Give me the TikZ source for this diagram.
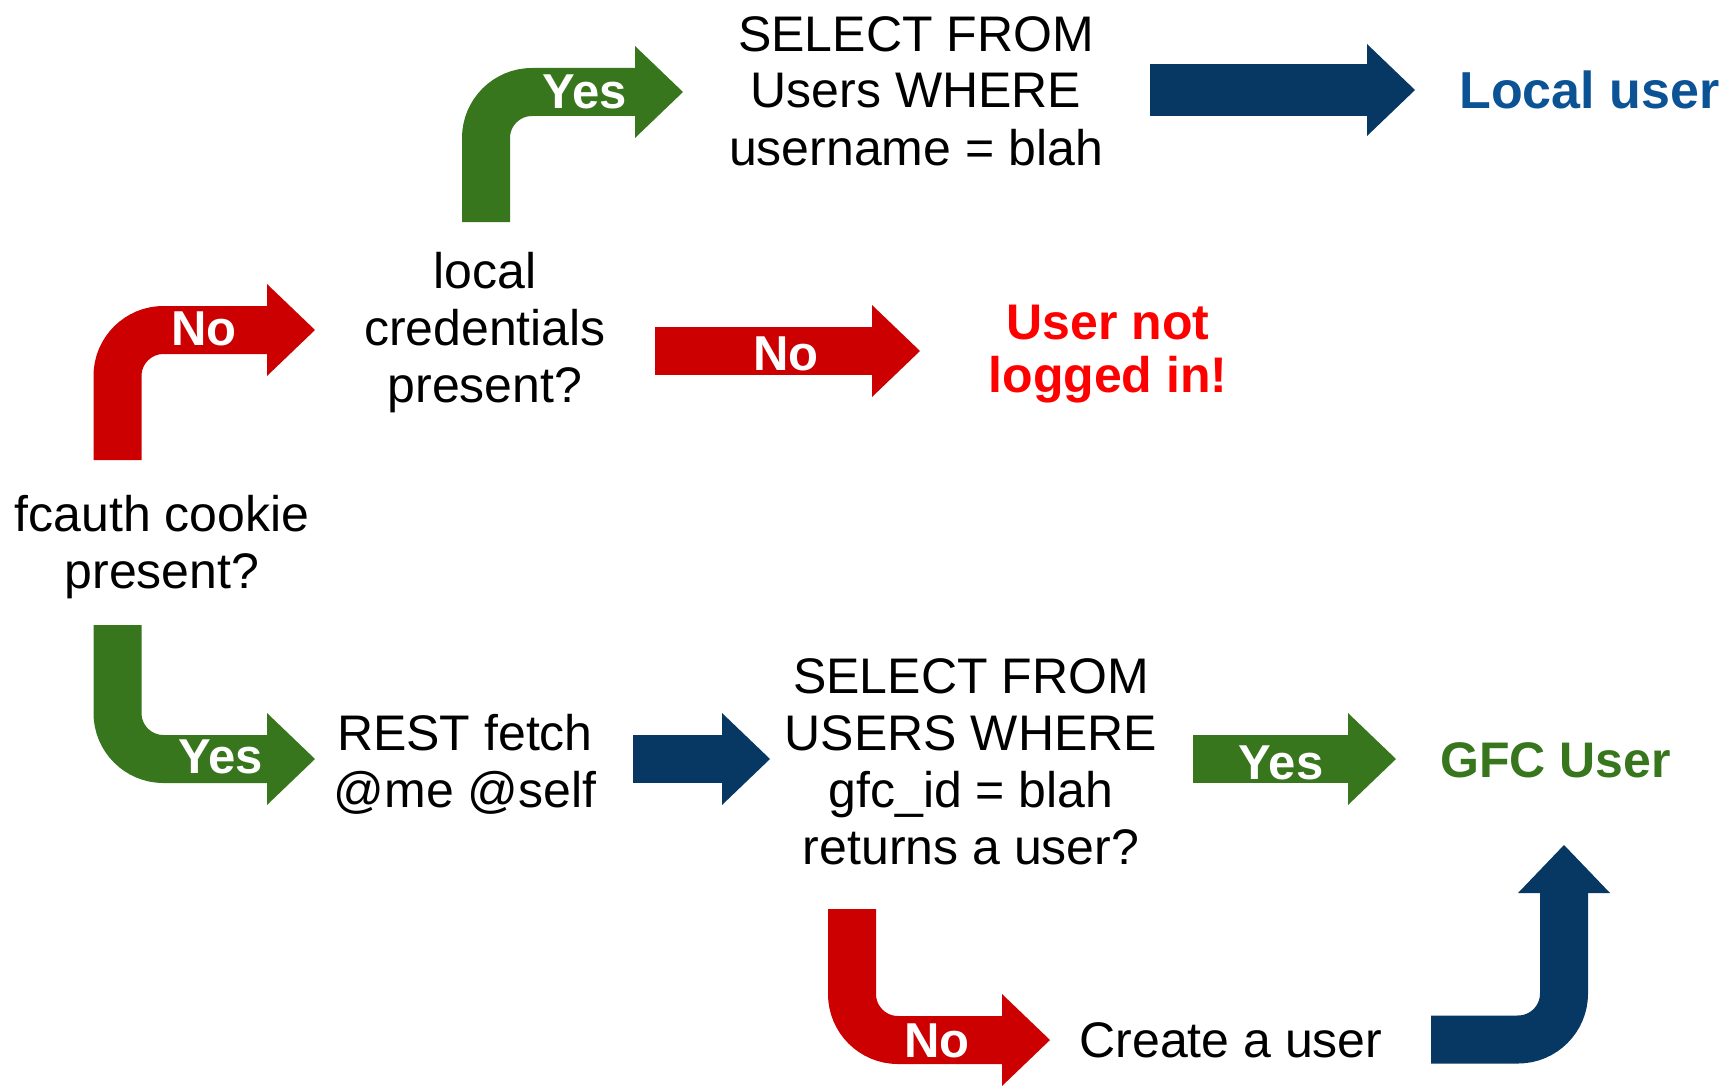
\documentclass[tikz,border=0pt]{standalone}
\usepackage{fontspec}
\setmainfont{Liberation Sans}
\usetikzlibrary{arrows.meta}
\definecolor{flowred}{HTML}{CC0000}
\definecolor{flowgreen}{HTML}{38761D}
\definecolor{flowblue}{HTML}{073763}
\definecolor{localblue}{HTML}{0B5394}
\definecolor{alertred}{HTML}{FF0000}
\begin{document}
\begin{tikzpicture}[x=0.5pt,y=-0.5pt,
  flow/.style={line width=24pt, rounded corners=23pt,
    -{Triangle[length=24pt,width=46pt,line width=0pt]}},
  txt/.style={font=\fontsize{25}{28.5}\selectfont, align=center, anchor=base, inner sep=0pt},
  result/.style={font=\bfseries\fontsize{25}{26.5}\selectfont, inner sep=0pt, anchor=base west},
  tag/.style={text=white, font=\bfseries\fontsize{24.5}{24.5}\selectfont, inner sep=0pt, anchor=base}]
\useasboundingbox (0,0) rectangle (1724,1086);

% decision and action texts (placed by the baseline of their last line)
\node[txt] (cookie) at (162,588) {fcauth cookie\\present?};
\node[txt] (local) at (485,402) {local\\credentials\\present?};
\node[txt] (selectlocal) at (916,165) {SELECT FROM\\Users WHERE\\username = blah};
\node[txt] (rest) at (465,807) {REST fetch\\@me @self};
\node[txt] (selectgfc) at (971,864) {SELECT FROM\\USERS WHERE\\gfc\_id = blah\\returns a user?};
\node[txt] (create) at (1231,1057) {Create a user};

% outcomes
\node[result, text=localblue, font=\bfseries\fontsize{26}{28}\selectfont] (localuser) at (1459,109) {Local user};
\node[result, text=alertred, anchor=base, align=center] (notlogged) at (1108,392) {User not\\logged in!};
\node[result, text=flowgreen] (gfcuser) at (1440,777) {GFC User};

% arrow end points
\coordinate (a1s) at (117.5,460);  \coordinate (a1e) at (315,330);
\coordinate (a2s) at (486,222);    \coordinate (a2e) at (683,92);
\coordinate (a3s) at (1150,90);    \coordinate (a3e) at (1415,90);
\coordinate (a4s) at (655,351);    \coordinate (a4e) at (920,351);
\coordinate (a5s) at (117.5,625);  \coordinate (a5e) at (315,759);
\coordinate (a6s) at (633,759);    \coordinate (a6e) at (770,759);
\coordinate (a7s) at (1193,759);   \coordinate (a7e) at (1396,759);
\coordinate (a8s) at (852,909);    \coordinate (a8e) at (1050,1040);
\coordinate (a9s) at (1431,1039.5);\coordinate (a9e) at (1564,845);

% block arrows
\draw[flow, flowred]   (a1s) |- (a1e);
\draw[flow, flowgreen] (a2s) |- (a2e);
\draw[flow, flowblue, line width=26pt] (a3s) -- (a3e);
\draw[flow, flowred]   (a4s) -- (a4e);
\draw[flow, flowgreen] (a5s) |- (a5e);
\draw[flow, flowblue]  (a6s) -- (a6e);
\draw[flow, flowgreen] (a7s) -- (a7e);
\draw[flow, flowred]   (a8s) |- (a8e);
\draw[flow, flowblue]  (a9s) -| (a9e);

% labels on the arrows
\node[tag] (no1)  at (204,345)  {No};
\node[tag] (yes1) at (585,109)  {Yes};
\node[tag] (no2)  at (786,370)  {No};
\node[tag] (yes2) at (221,773)  {Yes};
\node[tag] (yes3) at (1281,779) {Yes};
\node[tag] (no3)  at (937,1057) {No};
\end{tikzpicture}
\end{document}
